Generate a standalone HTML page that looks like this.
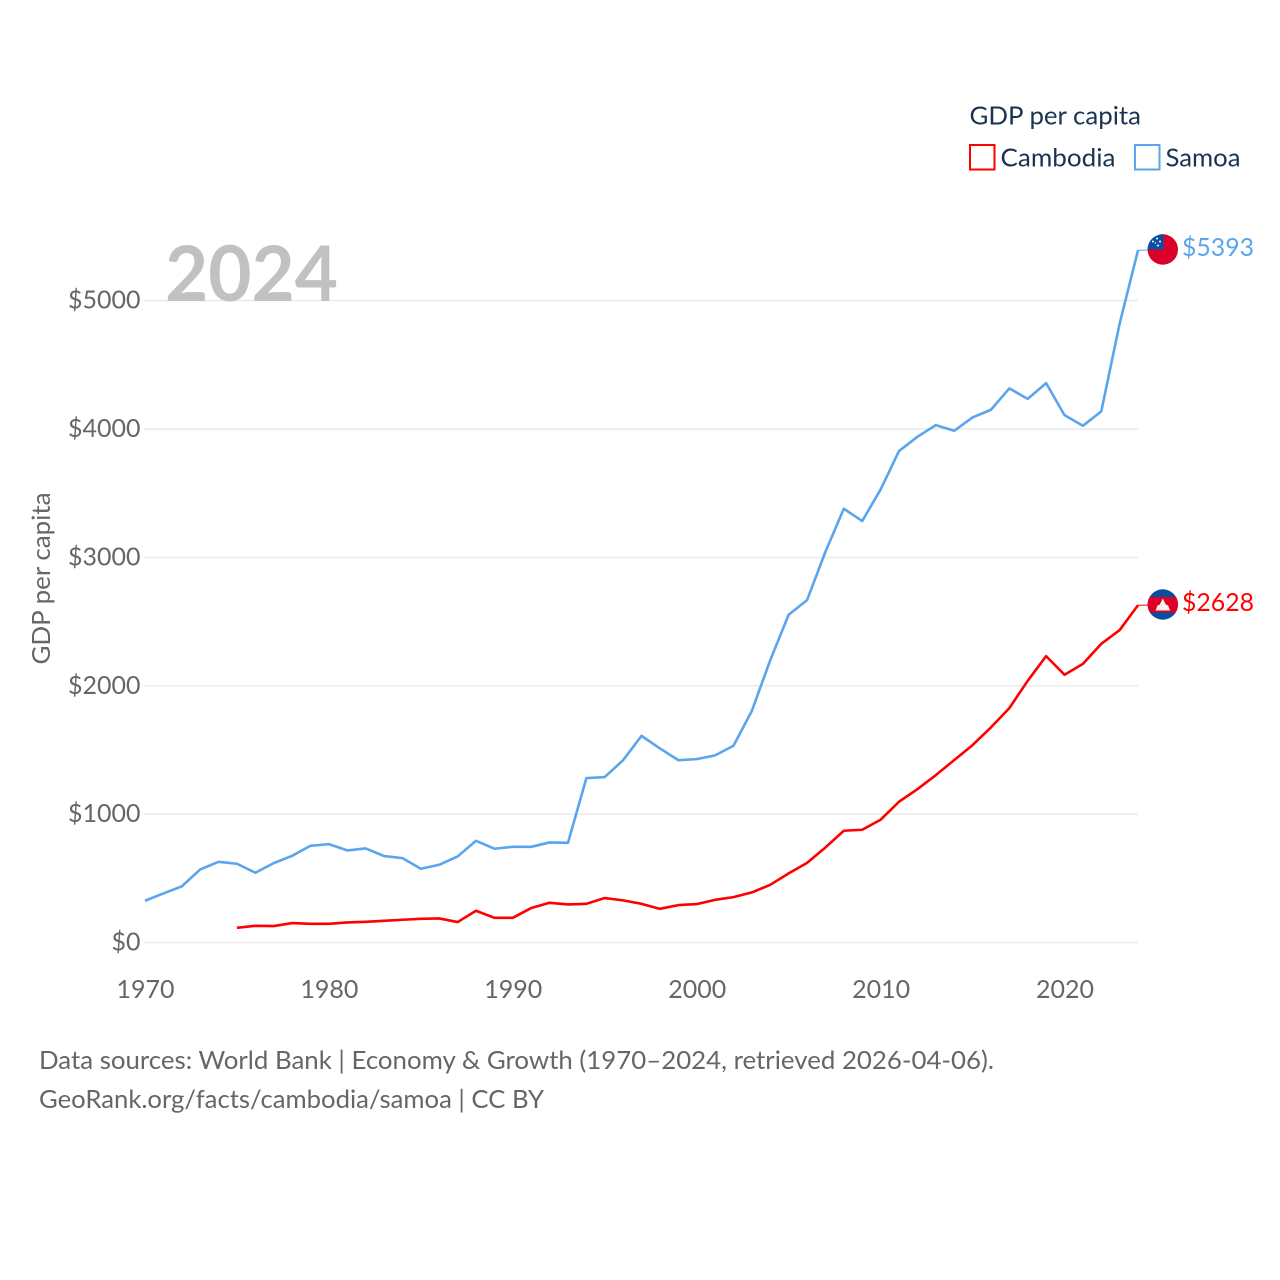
<!DOCTYPE html>
<html lang="en">
<head>
<meta charset="utf-8">
<title>GDP per capita: Cambodia and Samoa</title>
<style>
html,body{margin:0;padding:0;background:#fff;}
svg{display:block;}
text{font-family:Lato,Carlito,"Liberation Sans",sans-serif;}
</style>
</head>
<body>
<svg id="chart" xmlns="http://www.w3.org/2000/svg" width="1280" height="1280" viewBox="0 0 1280 1280">
  <defs>
    <clipPath id="clip-samoa"><circle cx="1162.8" cy="249.5" r="15.2"/></clipPath>
    <clipPath id="clip-cambodia"><circle cx="1162.8" cy="604.5" r="15.2"/></clipPath>
  </defs>
  <rect width="1280" height="1280" fill="#fff"/>
  <g id="grid"></g>
  <text x="165" y="301" font-size="77" font-weight="700" fill="#c1c1c1" textLength="173" lengthAdjust="spacingAndGlyphs">2024</text>
  <g id="y-ticks"></g>
  <g id="x-ticks"></g>
  <text transform="translate(50,578.5) rotate(-90)" text-anchor="middle" font-size="25" fill="#666" textLength="172" lengthAdjust="spacingAndGlyphs">GDP per capita</text>
  <g id="series"></g>

  <g clip-path="url(#clip-samoa)">
    <rect x="1147" y="234" width="32" height="32" fill="#da0029"/>
    <rect x="1147" y="234" width="16.5" height="15.5" fill="#0a4ea2"/>
    <circle cx="1157" cy="238.5" r="1" fill="#fff"/>
    <circle cx="1153" cy="241.5" r="1" fill="#fff"/>
    <circle cx="1160" cy="241.5" r="1" fill="#fff"/>
    <circle cx="1158" cy="245.5" r="1" fill="#fff"/>
    <circle cx="1155.5" cy="243" r=".7" fill="#fff"/>
  </g>
  <g clip-path="url(#clip-cambodia)">
    <rect x="1147" y="589" width="32" height="32" fill="#0a4ea2"/>
    <rect x="1147" y="597" width="32" height="15.5" fill="#e00025"/>
    <polygon points="1155.500,610.500 1157.500,605.500 1159.800,604.500 1162.800,598.500 1165.800,604.500 1168.100,605.500 1170.100,610.500" fill="#f4f1f1"/>
  </g>
  <text x="1182" y="256" font-size="25" fill="#5ba4ee" textLength="72" lengthAdjust="spacingAndGlyphs">$5393</text>
  <text x="1182" y="611" font-size="25" fill="#ff0000" textLength="72" lengthAdjust="spacingAndGlyphs">$2628</text>

  <g>
    <text x="969.500" y="124.500" font-size="25" fill="#1a3352" textLength="171.500" lengthAdjust="spacingAndGlyphs">GDP per capita</text>
    <rect x="970" y="145" width="24.500" height="24.500" fill="#fff" stroke="#ff0000" stroke-width="2"/>
    <text x="1000.500" y="166.500" font-size="25" fill="#1a3352" textLength="115" lengthAdjust="spacingAndGlyphs">Cambodia</text>
    <rect x="1135" y="145" width="24.500" height="24.500" fill="#fff" stroke="#5ba4ee" stroke-width="2"/>
    <text x="1165.500" y="166.500" font-size="25" fill="#1a3352" textLength="75" lengthAdjust="spacingAndGlyphs">Samoa</text>
  </g>

  <text x="39" y="1069" font-size="25" fill="#666" textLength="955" lengthAdjust="spacingAndGlyphs">Data sources: World Bank | Economy &amp; Growth (1970–2024, retrieved 2026-04-06).</text>
  <text x="39" y="1108" font-size="25" fill="#666" textLength="505" lengthAdjust="spacingAndGlyphs">GeoRank.org/facts/cambodia/samoa | CC BY</text>
</svg>
<script>
const samoaStartYear = 1970;
const samoaValues = [326,383,438,570,629,614,544,619,676,754,767,718,733,674,658,575,606,671,793,731,746,746,780,777,1281,1289,1421,1610,1512,1421,1429,1458,1533,1805,2200,2553,2667,3044,3379,3283,3529,3828,3939,4030,3986,4090,4150,4316,4235,4357,4108,4025,4137,4822,5393];
const cambodiaStartYear = 1975;
const cambodiaValues = [115,131,129,152,146,146,157,162,170,178,185,188,160,248,193,193,269,310,297,302,347,329,302,263,292,300,333,354,391,450,539,621,741,871,879,957,1097,1195,1304,1421,1538,1676,1826,2039,2231,2086,2171,2327,2434,2628];
const yTickValues = [0,1000,2000,3000,4000,5000];
const xTickValues = [1970,1980,1990,2000,2010,2020];

const SVG_NS = 'http://www.w3.org/2000/svg';
const xScale = year => 145 + (year - 1970) * 18.39;
const yScale = value => 942.6 - value * 0.1284;

function makeEl(tag, parentId) {
  const el = document.createElementNS(SVG_NS, tag);
  document.getElementById(parentId).appendChild(el);
  return el;
}

yTickValues.forEach(v => {
  const line = makeEl('line', 'grid');
  
  
  line.setAttribute('x1', xScale(1970) - 1);
  line.setAttribute('x2', xScale(2024));
  line.setAttribute('y1', yScale(v));
  line.setAttribute('y2', yScale(v));
  line.setAttribute('stroke', '#e9e9e9');
  line.setAttribute('stroke-width', '1.4');

  const label = makeEl('text', 'y-ticks');
  
  
  label.setAttribute('x', 140.5);
  label.setAttribute('y', yScale(v) + 8);
  label.setAttribute('text-anchor', 'end');
  label.setAttribute('font-size', '25');
  label.setAttribute('fill', '#666');
  label.textContent = '$' + v;
});

xTickValues.forEach(year => {
  const label = makeEl('text', 'x-ticks');
  
  
  label.setAttribute('x', xScale(year) + 0.5);
  label.setAttribute('y', 998);
  label.setAttribute('text-anchor', 'middle');
  label.setAttribute('font-size', '25');
  label.setAttribute('fill', '#666');
  label.textContent = year;
});

function drawSeries(values, startYear, color, name) {
  const points = values.map((v, i) => xScale(startYear + i).toFixed(2) + ',' + yScale(v).toFixed(2));
  const lastY = yScale(values[values.length - 1]).toFixed(2);
  const connector = makeEl('line', 'series');
  
  
  connector.setAttribute('x1', xScale(2024));
  connector.setAttribute('x2', xScale(2024) + 10);
  connector.setAttribute('y1', lastY);
  connector.setAttribute('y2', lastY);
  connector.setAttribute('stroke', color);
  connector.setAttribute('stroke-width', '1');

  const poly = makeEl('polyline', 'series');
  
  
  poly.setAttribute('points', points.join(' '));
  poly.setAttribute('fill', 'none');
  poly.setAttribute('stroke', color);
  poly.setAttribute('stroke-width', '2.6');
  poly.setAttribute('stroke-linejoin', 'round');
}

drawSeries(samoaValues, samoaStartYear, '#5ba4ee', 'samoa');
drawSeries(cambodiaValues, cambodiaStartYear, '#ff0000', 'cambodia');
</script>
</body>
</html>
